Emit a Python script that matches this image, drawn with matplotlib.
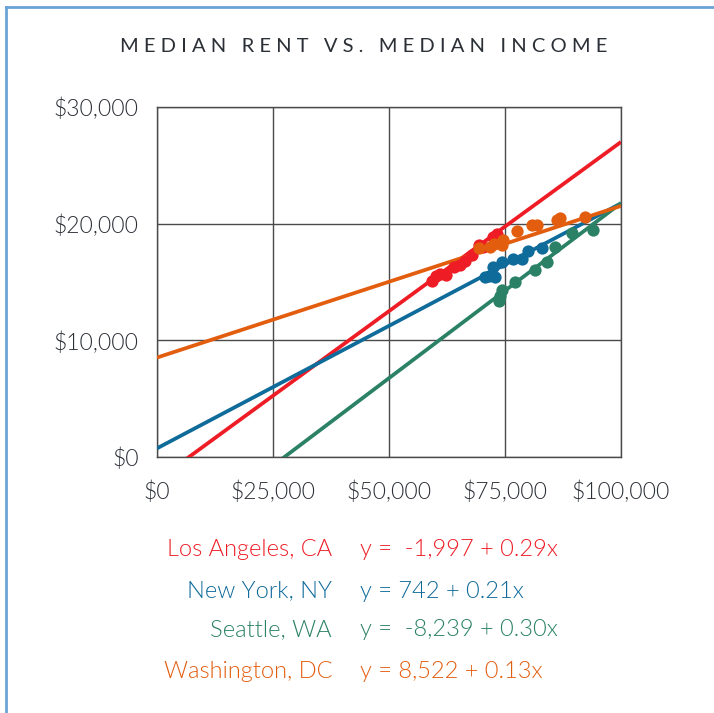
import matplotlib
matplotlib.use("Agg")
import matplotlib.pyplot as plt
from matplotlib.lines import Line2D
from matplotlib.ticker import FuncFormatter
import numpy as np

cities = ["Los Angeles, CA", "New York, NY", "Seattle, WA", "Washington, DC"]
colors = ["#ee1c25", "#0f6b9a", "#2a8165", "#e35d0f"]
intercepts = [-1997, 742, -8239, 8522]
slopes = [0.29, 0.21, 0.30, 0.13]
equations = ["y =  -1,997 + 0.29x", "y = 742 + 0.21x", "y =  -8,239 + 0.30x", "y = 8,522 + 0.13x"]

# median income / median rent per year
la_income = [59300, 60200, 61000, 62300, 64000, 65200, 66300, 67800, 69300, 70200, 72500, 73200]
la_rent = [15100, 15500, 15700, 15600, 16300, 16500, 16800, 17300, 18200, 18000, 18900, 19100]
ny_income = [70700, 71600, 72500, 72800, 74300, 76800, 78600, 80000, 82900]
ny_rent = [15400, 15500, 16300, 15400, 16700, 17000, 17000, 17700, 17900]
sea_income = [73600, 73900, 74300, 77200, 81500, 84000, 85800, 89500, 94000]
sea_rent = [13400, 13800, 14300, 15000, 16000, 16700, 18000, 19200, 19500]
dc_income = [69300, 71800, 72600, 74300, 74500, 77500, 80800, 81800, 86300, 86900, 92200]
dc_rent = [17900, 18000, 18300, 18200, 18600, 19400, 19900, 19900, 20300, 20500, 20600]

incomes = [la_income, ny_income, sea_income, dc_income]
rents = [la_rent, ny_rent, sea_rent, dc_rent]

x_ticks = [0, 25000, 50000, 75000, 100000]
y_ticks = [0, 10000, 20000, 30000]

plt.rcParams['font.family'] = ['Lato', 'DejaVu Sans']
plt.rcParams['font.weight'] = 300
text_color = "#2b2f36"

fig = plt.figure(figsize=(7.14, 7.13), dpi=100)
ax = fig.add_axes([157 / 714, 1 - 457 / 713, 464 / 714, 350 / 713])

xs = np.array([0, 100000])
for i in range(len(cities)):
    ax.plot(xs, intercepts[i] + slopes[i] * xs, color=colors[i], lw=2.7,
            solid_capstyle='butt', zorder=3)
for i in range(len(cities)):
    ax.scatter(incomes[i], rents[i], s=78, color=colors[i], linewidths=0, zorder=4)

ax.set_xlim(0, 100000)
ax.set_ylim(0, 30000)
ax.set_xticks(x_ticks)
ax.set_yticks(y_ticks)
money = FuncFormatter(lambda v, p: "${:,.0f}".format(v))
ax.xaxis.set_major_formatter(money)
ax.yaxis.set_major_formatter(money)
ax.grid(True, color="#4a4a4a", lw=1.0, zorder=1)
ax.set_axisbelow(True)
for s in ax.spines.values():
    s.set_color("#4a4a4a")
    s.set_linewidth(1.0)
ax.tick_params(length=0, labelsize=16.5, colors=text_color, pad=17)
ax.tick_params(axis='y', pad=13)

title = "   ".join(" ".join(w) for w in "MEDIAN RENT VS. MEDIAN INCOME".split())
fig.text(364 / 714, 1 - 46 / 713, title, ha='center', va='center',
         fontsize=14.5, color=text_color, fontweight='normal')

rows_y = [549, 591, 630, 671]
for i in range(len(cities)):
    fig.text(332 / 714, 1 - rows_y[i] / 713, cities[i], ha='right', va='center',
             fontsize=17, color=colors[i])
    fig.text(360 / 714, 1 - rows_y[i] / 713, equations[i], ha='left', va='center',
             fontsize=17, color=colors[i])

border = "#6aa3d6"
fig.add_artist(Line2D([6 / 714, 6 / 714], [0, 1 - 7 / 713], color=border, lw=2,
                      transform=fig.transFigure))
fig.add_artist(Line2D([6 / 714, 1], [1 - 7 / 713, 1 - 7 / 713], color=border, lw=2,
                      transform=fig.transFigure))

fig.savefig("out.png", dpi=100)
